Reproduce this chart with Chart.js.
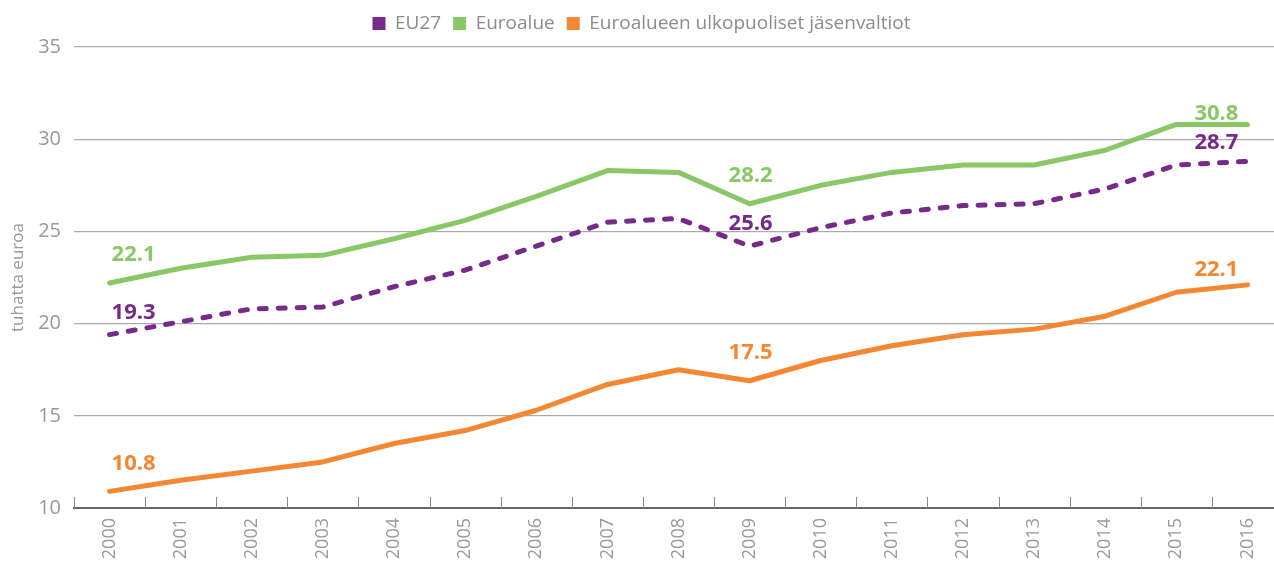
<!DOCTYPE html>
<html>
<head>
<meta charset="utf-8">
<script src="https://cdn.jsdelivr.net/npm/chart.js@4.4.0/dist/chart.umd.min.js"></script>
<style>
  html, body { margin: 0; padding: 0; background: #fff; overflow: hidden; }
</style>
</head>
<body>
<canvas id="chart" width="1283" height="564"></canvas>
<script>
// vuodet ja sarjat (tuhatta euroa)
const years = ['2000', '2001', '2002', '2003', '2004', '2005', '2006', '2007', '2008',
  '2009', '2010', '2011', '2012', '2013', '2014', '2015', '2016'];
const eu27 = [19.4, 20.1, 20.8, 20.9, 22.0, 22.9, 24.2, 25.5, 25.7, 24.2, 25.2, 26.0, 26.4, 26.5, 27.3, 28.6, 28.8];
const euroalue = [22.2, 23.0, 23.6, 23.7, 24.6, 25.6, 26.9, 28.3, 28.2, 26.5, 27.5, 28.2, 28.6, 28.6, 29.4, 30.8, 30.8];
const ulkopuoliset = [10.9, 11.5, 12.0, 12.5, 13.5, 14.2, 15.3, 16.7, 17.5, 16.9, 18.0, 18.8, 19.4, 19.7, 20.4, 21.7, 22.1];
const yTicks = [10, 15, 20, 25, 30, 35];

// arvolaput kolmelle vuodelle
const labelYears = ['2000', '2009', '2016'];
const eu27Labels = ['19.3', '25.6', '28.7'];
const euroalueLabels = ['22.1', '28.2', '30.8'];
const ulkoLabels = ['10.8', '17.5', '22.1'];

const PURPLE = '#762a8a';
const GREEN = '#8ac766';
const ORANGE = '#f58733';
const GREY = '#999999';

Chart.defaults.font.family = "'Open Sans', sans-serif";

// pienet pystyviivat akselin päällä + arvolaput
const extras = {
  id: 'extras',
  beforeLayout(chart) {
    // vähän lisää tilaa selitteen alle
    const lg = chart.legend;
    if (lg && !lg._padded) {
      const fit = lg.fit;
      lg.fit = function () { fit.call(this); this.height += 4; };
      lg._padded = true;
    }
  },
  afterDatasetsDraw(chart) {
    const ctx = chart.ctx;
    const x = chart.scales.x;
    const y = chart.scales.y;
    const bottom = chart.chartArea.bottom;

    ctx.save();
    ctx.strokeStyle = '#8a8a8a';
    ctx.lineWidth = 1;
    const step = x.getPixelForValue(1) - x.getPixelForValue(0);
    for (let i = 0; i <= years.length; i++) {
      const px = Math.round(x.getPixelForValue(i) - step / 2) + 0.5;
      ctx.beginPath();
      ctx.moveTo(px, bottom);
      ctx.lineTo(px, bottom - 11);
      ctx.stroke();
    }

    ctx.font = "bold 22px 'Open Sans', sans-serif";
    ctx.textBaseline = 'middle';
    chart.data.datasets.forEach(ds => {
      labelYears.forEach((yr, k) => {
        const idx = years.indexOf(yr);
        const px = x.getPixelForValue(idx);
        const py = y.getPixelForValue(ds.data[idx]);
        ctx.fillStyle = ds.borderColor;
        const lift = ds.labelLift;
        if (k === 0) {
          ctx.textAlign = 'left';
          ctx.fillText(ds.valueLabels[k], px + 2, py - lift);
        } else if (k === labelYears.length - 1) {
          ctx.textAlign = 'right';
          ctx.fillText(ds.valueLabels[k], px - 9, py - ds.labelLiftEnd);
        } else {
          ctx.textAlign = 'center';
          ctx.fillText(ds.valueLabels[k], px + 1, py - lift);
        }
      });
    });
    ctx.restore();
  }
};

new Chart(document.getElementById('chart'), {
  type: 'line',
  data: {
    labels: years,
    datasets: [
      {
        label: 'EU27', data: eu27, borderColor: PURPLE, backgroundColor: PURPLE,
        borderDash: [7, 12], valueLabels: eu27Labels, labelLift: 22, labelLiftEnd: 19
      },
      {
        label: 'Euroalue', data: euroalue, borderColor: GREEN, backgroundColor: GREEN,
        valueLabels: euroalueLabels, labelLift: 28, labelLiftEnd: 11
      },
      {
        label: 'Euroalueen ulkopuoliset jäsenvaltiot', data: ulkopuoliset, borderColor: ORANGE,
        backgroundColor: ORANGE, valueLabels: ulkoLabels, labelLift: 28, labelLiftEnd: 15
      }
    ]
  },
  options: {
    responsive: false,
    animation: false,
    layout: { padding: { top: 2, left: 0, right: 0, bottom: 0 } },
    elements: {
      line: { borderWidth: 5, tension: 0, borderCapStyle: 'round', borderJoinStyle: 'round' },
      point: { radius: 0, hoverRadius: 0 }
    },
    plugins: {
      tooltip: { enabled: false },
      legend: {
        position: 'top',
        align: 'center',
        labels: {
          boxWidth: 13,
          boxHeight: 13,
          padding: 12,
          color: '#8c8c8c',
          font: { size: 19 },
          generateLabels(chart) {
            return chart.data.datasets.map((ds, i) => ({
              text: ds.label,
              fillStyle: ds.borderColor,
              strokeStyle: ds.borderColor,
              lineWidth: 0,
              lineDash: [],
              fontColor: '#8c8c8c',
              datasetIndex: i
            }));
          }
        }
      }
    },
    scales: {
      x: {
        offset: true,
        grid: { display: true, drawOnChartArea: false, drawTicks: false },
        border: { display: true, color: '#666666', width: 2 },
        ticks: {
          color: GREY,
          font: { size: 18 },
          minRotation: 90,
          maxRotation: 90,
          padding: 10,
          autoSkip: false
        },
        afterFit(scale) { scale.height = 56; }
      },
      y: {
        min: yTicks[0],
        max: yTicks[yTicks.length - 1],
        afterBuildTicks(scale) { scale.ticks = yTicks.map(v => ({ value: v })); },
        grid: {
          drawTicks: false,
          color: ctx => ctx.tick && ctx.tick.value === yTicks[0] ? 'rgba(0,0,0,0)' : '#aaaaaa',
          lineWidth: 1.3
        },
        border: { display: false },
        ticks: { color: GREY, font: { size: 20 }, padding: 13 },
        title: {
          display: true,
          text: 'tuhatta euroa',
          color: GREY,
          font: { size: 17 },
          padding: { top: 8, bottom: 0 }
        },
        afterFit(scale) { scale.width = 74; }
      }
    }
  },
  plugins: [extras]
});
</script>
</body>
</html>
